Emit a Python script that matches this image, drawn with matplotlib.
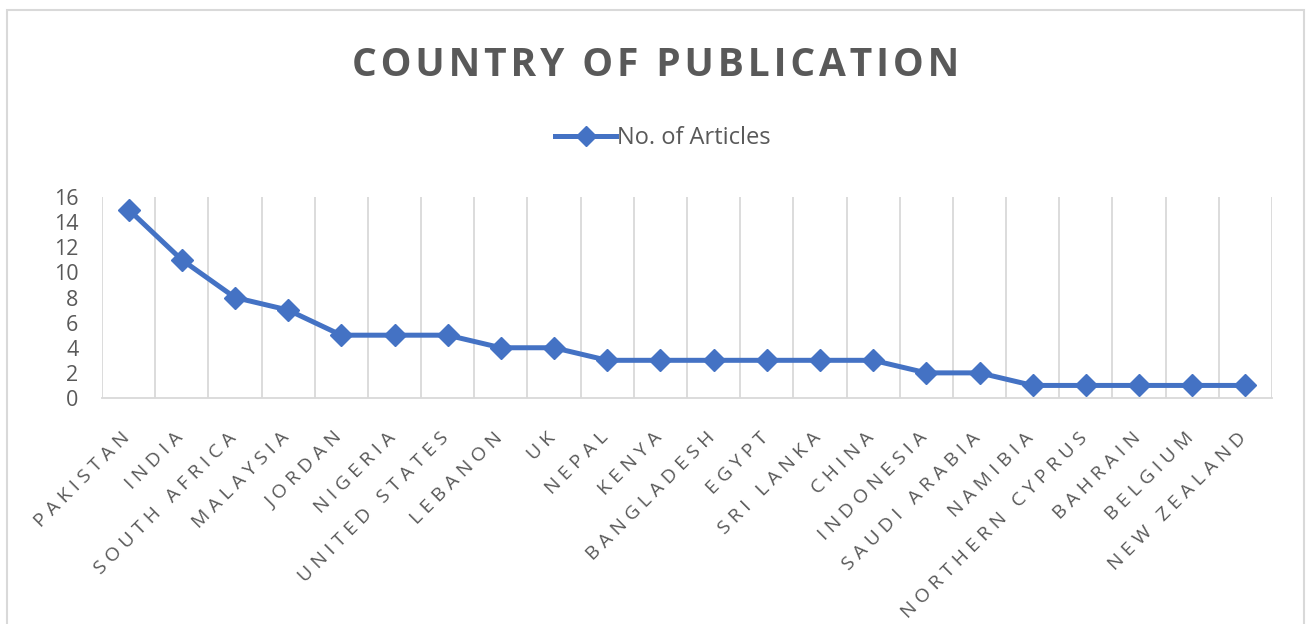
import numpy as np
import matplotlib.pyplot as plt
import matplotlib.transforms as mtransforms
from matplotlib.patches import Rectangle
from matplotlib.lines import Line2D

plt.rcParams['font.family'] = ['Open Sans', 'DejaVu Sans']

countries = ["PAKISTAN", "INDIA", "SOUTH AFRICA", "MALAYSIA", "JORDAN", "NIGERIA",
             "UNITED STATES", "LEBANON", "UK", "NEPAL", "KENYA", "BANGLADESH",
             "EGYPT", "SRI LANKA", "CHINA", "INDONESIA", "SAUDI ARABIA", "NAMIBIA",
             "NORTHERN CYPRUS", "BAHRAIN", "BELGIUM", "NEW ZEALAND"]
articles = [15, 11, 8, 7, 5, 5, 5, 4, 4, 3, 3, 3, 3, 3, 3, 2, 2, 1, 1, 1, 1, 1]
yticks = [0, 2, 4, 6, 8, 10, 12, 14, 16]

blue = '#4472C4'
grey_txt = '#595959'
grid_col = '#d9d9d9'

def spaced(s, gap='\u2009'):
    # Excel letter spacing: put thin spaces between the characters
    return gap.join(s)

fig = plt.figure(figsize=(13.11, 6.24), dpi=100)

# chart area border
fig.patches.append(Rectangle((7 / 1311, -0.05), 1297 / 1311, 1.05 - 10 / 624,
                             transform=fig.transFigure, fill=False,
                             edgecolor=grid_col, linewidth=1.5))

ax = fig.add_axes([102 / 1311, 1 - 398 / 624, 1170 / 1311, 201 / 624])
n = len(countries)
x = np.arange(n)
ax.plot(x, articles, color=blue, linewidth=3.6, marker='D', markersize=11,
        solid_joinstyle='round', clip_on=False, zorder=3)

ax.set_xlim(-0.5, n - 0.5)
ax.set_ylim(0, 16)
ax.set_yticks(yticks)
ax.set_yticklabels([str(v) for v in yticks], fontsize=15.5, color=grey_txt)

# vertical gridlines between categories
for b in np.arange(-0.5, n, 1.0):
    ax.axvline(b, color=grid_col, linewidth=1.3, zorder=1)

ax.set_xticks(x)
ax.set_xticklabels([spaced(c, '\u2009\u200a') for c in countries], rotation=45, ha='right',
                   rotation_mode='anchor', fontsize=14, color=grey_txt)
ax.tick_params(axis='both', length=0)
ax.tick_params(axis='x', pad=22)
ax.tick_params(axis='y', pad=17)
shift = mtransforms.ScaledTranslation(-8 / 100, 0, fig.dpi_scale_trans)
for lab in ax.get_xticklabels():
    lab.set_transform(lab.get_transform() + shift)

for s in ['top', 'right', 'left']:
    ax.spines[s].set_visible(False)
ax.spines['bottom'].set_color(grid_col)
ax.spines['bottom'].set_linewidth(1.3)

fig.text(656 / 1311, 1 - 66 / 624, spaced("COUNTRY OF PUBLICATION", '\u200a'),
         ha='center', va='center', fontsize=28, fontweight='bold', color=grey_txt)

handle = Line2D([], [], color=blue, linewidth=3.6, marker='D', markersize=10)
fig.legend([handle], ["No. of Articles"], loc='center', bbox_to_anchor=(663 / 1311, 1 - 138 / 624),
           frameon=False, fontsize=17, labelcolor=grey_txt, handlelength=2.6,
           handletextpad=0.05)

fig.savefig('out.png', dpi=100)
